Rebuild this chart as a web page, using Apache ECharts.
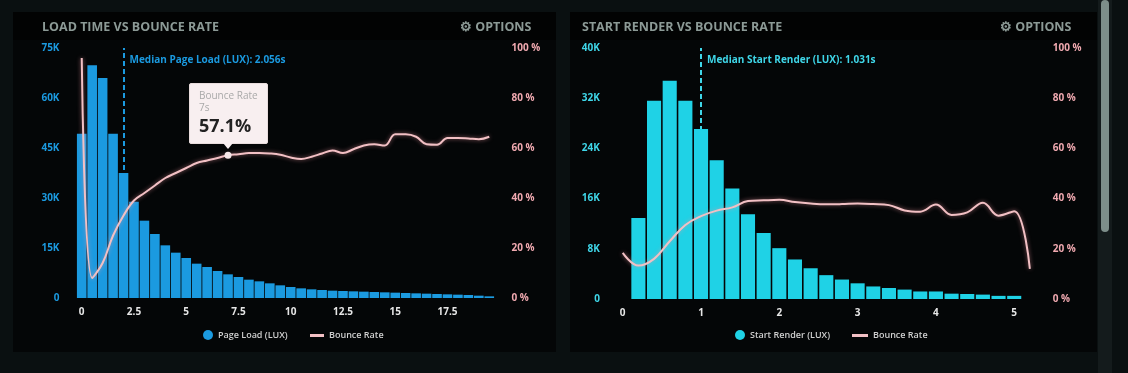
<!DOCTYPE html>
<html>
<head>
<meta charset="utf-8">
<script src="https://cdn.jsdelivr.net/npm/echarts@6/dist/echarts.min.js"></script>
<style>
html,body{margin:0;padding:0;background:#0a1011;}
#c{width:1128px;height:373px;}
</style>
</head>
<body>
<div id="c"></div>
<script>
// ---- Data: Load time vs bounce rate (0.5 s bins) ----
const loadCategories = ['0','0.5','1','1.5','2','2.5','3','3.5','4','4.5','5','5.5','6','6.5','7','7.5','8','8.5','9','9.5',
  '10','10.5','11','11.5','12','12.5','13','13.5','14','14.5','15','15.5','16','16.5','17','17.5','18','18.5','19','19.5'];
const pageLoadCounts = [49300,69800,66000,49300,37500,28900,23200,19200,15800,13600,12000,10300,9300,8100,7100,6300,5500,5000,4400,3800,
  3300,2900,2600,2400,2200,2100,2000,1900,1800,1700,1600,1500,1400,1300,1200,1100,1000,900,700,500];
const loadBounce = [96,8,14,25,33,39,42,45,48,50,52,54,55,56,57.1,57.5,58,58,57.8,57.3,
  56.2,55.6,56.5,57.8,59,58,59.5,61,61.5,61,65.5,65.5,64.5,61.5,61.3,64,64,63.8,63.5,64.5];
const loadTickLabels = ['0','2.5','5','7.5','10','12.5','15','17.5'];
const medianPageLoad = 2.056;
const loadBinSize = 0.5;

// ---- Data: Start render vs bounce rate (0.2 s bins) ----
const renderCategories = ['0','0.2','0.4','0.6','0.8','1','1.2','1.4','1.6','1.8','2','2.2','2.4','2.6','2.8','3','3.2','3.4','3.6','3.8',
  '4','4.2','4.4','4.6','4.8','5','5.2'];
const startRenderCounts = [null,12900,31600,34800,31600,27100,22100,17600,13500,10500,8100,6300,4900,3800,3100,2500,2000,1750,1500,1200,
  1200,850,800,700,500,500,null];
const renderBounce = [18.4,13.3,16,23,29.5,33,35.2,36.5,39,39.3,39.5,38.6,38,37.7,37.8,38,37.8,37.4,35.3,34.8,
  37.6,33.5,34.5,38.3,33.2,35,12];
const renderTickLabels = ['0','1','2','3','4','5'];
const medianStartRender = 1.031;
const renderBinSize = 0.2;

const tooltipIndex = 14; // 7s

const FONT = 'Open Sans';
const blue = '#1b9ae0', cyan = '#1fd2e6', pink = '#f2c0c4', pinkLbl = '#f0a9b0';

const chart = echarts.init(document.getElementById('c'), null, {renderer:'canvas'});

function catAxis(grid, cats, ticks){
  return {type:'category', gridIndex:grid, data:cats, boundaryGap:true,
    axisLine:{show:false}, axisTick:{show:false},
    axisLabel:{color:'#e6e6e6', fontFamily:FONT, fontWeight:'bold', fontSize:10, margin:9,
      interval:(i,v)=>ticks.indexOf(v)>=0}};
}
function valAxis(grid, max, interval, color, fmt, pos, margin){
  return {type:'value', gridIndex:grid, min:0, max:max, interval:interval, position:pos,
    splitLine:{show:false}, axisLine:{show:false}, axisTick:{show:false},
    axisLabel:{color:color, fontFamily:FONT, fontWeight:'bold', fontSize:10, margin:margin, formatter:fmt}};
}
const kFmt = v => v===0 ? '0' : (v/1000)+'K';
const pFmt = v => v+' %';
const legTxt = {color:'#cfcfcf', fontSize:9, fontFamily:FONT, fontWeight:600};
const titleTxt = {color:'#8c9a96', fontSize:12.5, fontWeight:'bold', fontFamily:FONT};

const option = {
  backgroundColor:'#0a1011',
  animation:false,
  textStyle:{fontFamily:FONT},
  graphic:[
    {type:'rect', shape:{x:13,y:12,width:543,height:340}, style:{fill:'#040607'}, z:-10},
    {type:'rect', shape:{x:570,y:12,width:527,height:340}, style:{fill:'#040607'}, z:-10},
    {type:'rect', shape:{x:13,y:12,width:543,height:28}, style:{fill:'#020303'}, z:-9},
    {type:'rect', shape:{x:570,y:12,width:527,height:28}, style:{fill:'#020303'}, z:-9},
    {type:'rect', shape:{x:1098,y:0,width:14,height:373}, style:{fill:'#141b1c'}, z:-9},
    {type:'rect', shape:{x:1101,y:0,width:8,height:232,r:4}, style:{fill:'#7d8e8a'}, z:-8}
  ],
  title:[
    {text:'LOAD TIME VS BOUNCE RATE', left:37, top:16, textStyle:titleTxt},
    {text:'⚙ OPTIONS', left:455, top:16, textStyle:titleTxt},
    {text:'START RENDER VS BOUNCE RATE', left:577, top:16, textStyle:titleTxt},
    {text:'⚙ OPTIONS', left:995, top:16, textStyle:titleTxt}
  ],
  legend:[
    {data:[{name:'Page Load (LUX)', icon:'circle'}], left:198, top:325, itemWidth:10, itemHeight:10, itemGap:5, textStyle:legTxt},
    {data:[{name:'Bounce Rate', icon:'rect', itemStyle:{color:pink}}], left:305, top:326, itemWidth:14, itemHeight:3, textStyle:legTxt},
    {data:[{name:'Start Render (LUX)', icon:'circle'}], left:730, top:325, itemWidth:10, itemHeight:10, itemGap:5, textStyle:legTxt},
    {data:[{name:'Bounce Rate', icon:'rect', itemStyle:{color:pink}}], left:847, top:326, itemWidth:16, itemHeight:3, textStyle:legTxt}
  ],
  tooltip:{
    trigger:'item', triggerOn:'none', alwaysShowContent:true, showContent:true,
    backgroundColor:'#f8eff0', borderColor:'#e8dcdc', borderWidth:1, padding:[5,9],
    extraCssText:'border-radius:2px;box-shadow:none;',
    position:function(pt, params, dom, rect, size){
      return [pt[0]-size.contentSize[0]/2, pt[1]-size.contentSize[1]-11];
    },
    formatter:function(p){
      return '<div style="font-family:Open Sans;color:#a9a9a9;font-size:10px;line-height:12px">'+p.seriesName+'</div>'+
        '<div style="font-family:Open Sans;color:#a9a9a9;font-size:10px;line-height:12px">'+p.name+'s</div>'+
        '<div style="font-family:Open Sans;color:#222;font-size:18px;font-weight:bold;line-height:25px">'+p.value+'%</div>'+
        '<div style="position:absolute;left:50%;bottom:-6px;margin-left:-5px;width:0;height:0;border-left:5px solid transparent;border-right:5px solid transparent;border-top:6px solid #f8eff0"></div>';
    }
  },
  grid:[
    {left:76.5, top:48, width:418, height:250},
    {left:614.9, top:48, width:422.8, height:251}
  ],
  xAxis:[
    catAxis(0, loadCategories, loadTickLabels),
    catAxis(1, renderCategories, renderTickLabels)
  ],
  yAxis:[
    valAxis(0, 75000, 15000, blue, kFmt, 'left', 17),
    valAxis(0, 100, 20, pinkLbl, pFmt, 'right', 17),
    valAxis(1, 40000, 8000, '#3fd6e8', kFmt, 'left', 15),
    valAxis(1, 100, 20, pinkLbl, pFmt, 'right', 15)
  ],
  series:[
    {name:'Page Load (LUX)', type:'bar', xAxisIndex:0, yAxisIndex:0, data:pageLoadCounts, z:2,
      barCategoryGap:'8%', itemStyle:{color:blue}, tooltip:{show:false},
      markLine:{z:1, silent:true, symbol:'none', label:{show:false},
        lineStyle:{color:blue, type:[5,3], width:2},
        data:[[{coord:[medianPageLoad/loadBinSize, 0]},{coord:[medianPageLoad/loadBinSize, 75000]}]]},
      markPoint:{silent:true, symbol:'circle', symbolSize:0,
        label:{show:true, position:'right', distance:6, color:blue, fontSize:10, fontWeight:'bold', fontFamily:FONT,
          formatter:'Median Page Load (LUX): '+medianPageLoad+'s'},
        data:[{coord:[medianPageLoad/loadBinSize, 71500]}]}
    },
    {name:'Bounce Rate', type:'line', xAxisIndex:0, yAxisIndex:1, data:loadBounce, z:4,
      smooth:0.4, symbol:'circle', showSymbol:true,
      symbolSize:function(v, p){ return p.dataIndex===tooltipIndex ? 7 : 0; },
      lineStyle:{color:pink, width:2, shadowBlur:4, shadowColor:'rgba(240,150,160,0.6)'},
      itemStyle:{color:'#f5e6e8'}, emphasis:{disabled:true}},
    {name:'Start Render (LUX)', type:'bar', xAxisIndex:1, yAxisIndex:2, data:startRenderCounts, z:2,
      barCategoryGap:'10%', itemStyle:{color:cyan}, tooltip:{show:false},
      markLine:{z:1, silent:true, symbol:'none', label:{show:false},
        lineStyle:{color:'#3fd6e8', type:[5,3], width:2},
        data:[[{coord:[medianStartRender/renderBinSize, 0]},{coord:[medianStartRender/renderBinSize, 40000]}]]},
      markPoint:{silent:true, symbol:'circle', symbolSize:0,
        label:{show:true, position:'right', distance:6, color:'#3fd6e8', fontSize:10, fontWeight:'bold', fontFamily:FONT,
          formatter:'Median Start Render (LUX): '+medianStartRender+'s'},
        data:[{coord:[medianStartRender/renderBinSize, 38100]}]}
    },
    {name:'Bounce Rate', type:'line', xAxisIndex:1, yAxisIndex:3, data:renderBounce, z:4,
      smooth:0.4, symbol:'none', showSymbol:false,
      lineStyle:{color:pink, width:2, shadowBlur:4, shadowColor:'rgba(240,150,160,0.6)'},
      itemStyle:{color:pink}}
  ]
};
chart.setOption(option);
function showTip(){ chart.dispatchAction({type:'showTip', seriesIndex:1, dataIndex:tooltipIndex}); }
showTip();
setTimeout(showTip, 30);
</script>
</body>
</html>
